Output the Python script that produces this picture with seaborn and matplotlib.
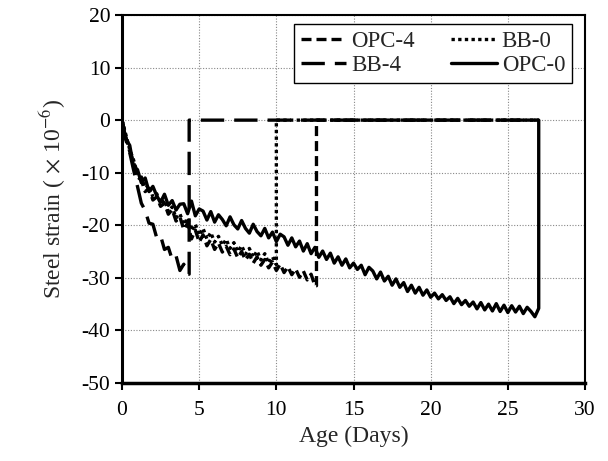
import numpy as np
import matplotlib
matplotlib.use("Agg")
import matplotlib.pyplot as plt
import seaborn as sns

# measured steel strain (x 10^-6), sampled every 0.25 day until failure
step = 0.25

opc0 = [0, -3.6, -4.8, -8.9, -9.4, -11.9, -11.0, -13.6, -12.6, -14.4, -15.6, -14.1,
        -16.2, -15.3, -17.1, -16.0, -15.9, -17.8, -15.4, -18.2, -16.9, -17.3, -19.0, -17.4,
        -19.4, -18.0, -18.9, -20.1, -18.4, -19.9, -20.7, -19.1, -20.6, -21.5, -19.8, -21.2,
        -22.0, -20.6, -22.4, -21.3, -23.1, -21.7, -22.2, -23.8, -22.4, -24.1, -23.0, -24.9,
        -23.5, -25.4, -24.2, -26.1, -24.9, -26.5, -25.3, -27.2, -26.0, -27.6, -26.4, -28.1,
        -27.2, -28.4, -27.6, -29.4, -28.0, -28.7, -30.2, -28.9, -30.6, -29.7, -31.4, -30.2,
        -31.8, -30.9, -32.6, -31.4, -32.9, -31.8, -33.3, -32.3, -33.7, -32.9, -34.0, -33.2,
        -34.3, -33.6, -34.9, -33.9, -35.1, -34.3, -35.4, -34.6, -35.9, -34.7, -36.1, -35.0,
        -36.3, -34.9, -36.4, -35.2, -36.6, -35.3, -36.5, -35.4, -36.8, -35.6, -36.4, -37.4,
        -35.8]
opc4 = [0, -3.2, -6.0, -8.0, -10.8, -11.4, -13.6, -13.0, -15.2, -14.6, -16.4, -15.8,
        -17.9, -17.0, -19.2, -18.4, -20.8, -19.6, -22.6, -20.9, -23.2, -21.8, -23.9, -22.7,
        -24.6, -23.4, -25.1, -24.0, -25.6, -24.5, -26.2, -25.0, -26.6, -25.5, -27.2, -26.0,
        -27.6, -26.5, -28.1, -27.0, -28.6, -27.4, -29.0, -27.9, -29.4, -28.3, -29.9, -28.7,
        -30.4, -29.3, -31.5]
bb0 = [0, -2.8, -5.6, -7.6, -10.2, -10.8, -12.9, -12.4, -14.6, -14.0, -15.9, -15.2,
       -17.4, -16.5, -18.6, -17.8, -19.9, -18.6, -21.0, -19.8, -21.9, -20.6, -22.6, -21.4,
       -23.2, -22.1, -23.8, -22.7, -24.4, -23.3, -25.0, -23.9, -25.5, -24.4, -26.1, -24.9,
       -26.6, -25.4, -27.2, -26.0, -27.5]
bb4 = [0, -3.8, -6.2, -9.5, -12.6, -15.8, -17.2, -19.6, -19.8, -22.4, -22.0, -24.6,
       -24.2, -26.5, -25.8, -28.6, -27.4, -29.3]

# failure day of each specimen (strain drops back to 0), test ends at day 27
fail_day = {"OPC-4": 12.6, "BB-0": 10.0, "BB-4": 4.35, "OPC-0": 27.0}
end_day = 27.0


def series(vals, fail):
    d = list(np.arange(len(vals)) * step)
    v = list(vals)
    d += [fail, fail]
    v += [v[-1], 0]
    if fail < end_day:
        d.append(end_day)
        v.append(0)
    return d, v


sns.set_theme(style="ticks")
plt.rcParams['font.family'] = ['Liberation Serif', 'DejaVu Serif']
plt.rcParams['mathtext.fontset'] = 'stix'
plt.rcParams['axes.unicode_minus'] = False

fig = plt.figure(figsize=(6.08, 4.61), dpi=100)
ax = fig.add_axes([0.2007, 0.1692, 0.7615, 0.7983])

styles = {
    "OPC-4": (0, (3, 1.5)),
    "BB-4": (0, (7, 3)),
    "BB-0": (0, (1, 1)),
    "OPC-0": "-",
}
data = {"OPC-4": opc4, "BB-4": bb4, "BB-0": bb0, "OPC-0": opc0}

for name in ["OPC-4", "BB-4", "BB-0", "OPC-0"]:
    d, v = series(data[name], fail_day[name])
    sns.lineplot(x=d, y=v, ax=ax, color="black", linewidth=2.4,
                 linestyle=styles[name], label=name, sort=False,
                 estimator=None)

ax.set_xlim(0, 30)
ax.set_ylim(-50, 20)
ax.set_xticks(range(0, 31, 5))
ax.set_yticks(range(-50, 21, 10))
ax.grid(True, linestyle=(0, (1, 1.5)), color="#888888", linewidth=0.8)
ax.set_axisbelow(True)

for s in ax.spines.values():
    s.set_color("black")
    s.set_linewidth(1.5)
ax.spines["left"].set_linewidth(2.2)
ax.spines["bottom"].set_linewidth(2.5)

ax.tick_params(axis="both", direction="out", length=5, width=1.5,
               labelsize=15.5, colors="black")
ax.tick_params(axis="x", pad=8)
ax.set_xlabel("Age (Days)", fontsize=17, labelpad=4)
ax.set_ylabel(r"Steel strain ( $\times$ 10$^{-6}$)", fontsize=17, labelpad=10)

leg = ax.legend(ncol=2, loc="upper right", bbox_to_anchor=(0.972, 0.976),
                fontsize=16.5, frameon=True, fancybox=False, framealpha=1,
                edgecolor="black", handlelength=2.0, handletextpad=0.2,
                columnspacing=1.6, borderpad=0.3, labelspacing=0.15,
                borderaxespad=0.0)
leg.get_frame().set_linewidth(1.0)

fig.savefig("out.png", dpi=100)
